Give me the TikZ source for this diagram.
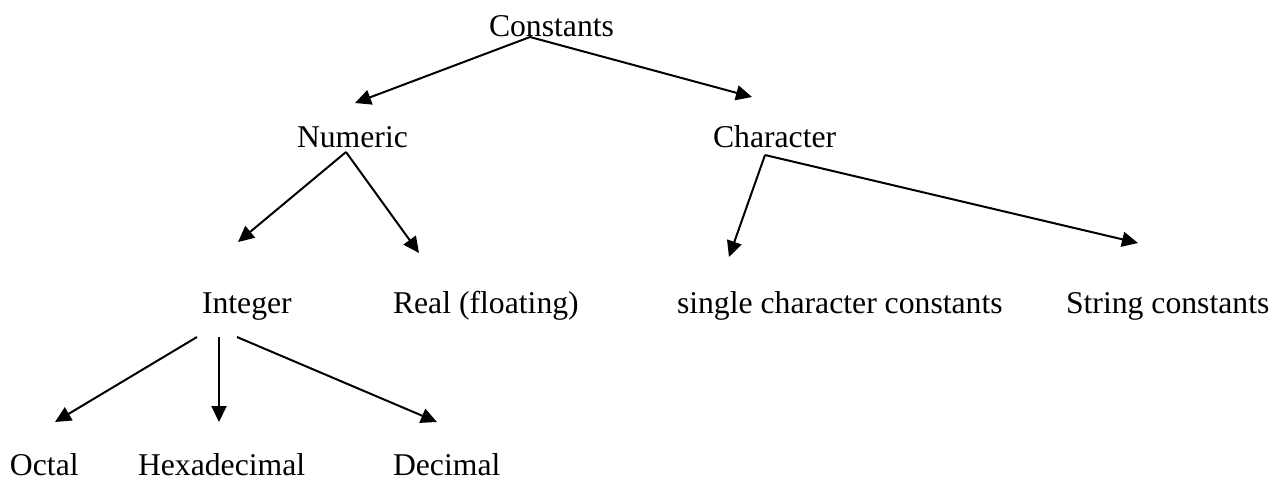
\documentclass[tikz,border=0pt]{standalone}
\usepackage{fontspec}
\setmainfont{Liberation Serif}
\usetikzlibrary{arrows.meta}
\begin{document}
\begin{tikzpicture}[x=0.5pt,y=-0.5pt,
  label/.style={anchor=base west,inner sep=0pt,outer sep=0pt,
    font=\fontsize{15.85pt}{19pt}\selectfont},
  branch/.style={line width=1pt,-{Triangle[length=8pt,width=7.5pt]}}]
\useasboundingbox (0,0) rectangle (1281,479);

% labels, one row per level of the tree
\node[label] (cst) at (489,36) {Constants};
\node[label] (num) at (297,147) {Numeric};
\node[label] (chr) at (713,147) {Character};
\node[label] (int) at (202,313) {Integer};
\node[label] (real) at (393,313) {Real (floating)};
\node[label] (sgl) at (677,313) {single character constants};
\node[label] (str) at (1066,313) {String constants};
\node[label] (oct) at (10,475) {Octal};
\node[label] (hex) at (138,475) {Hexadecimal};
\node[label] (dec) at (393,475) {Decimal};

% free ends of the connectors
\coordinate (cst-o) at (530,37);
\coordinate (num-in) at (355,103);
\coordinate (chr-in) at (752,97);
\coordinate (num-o) at (346,152);
\coordinate (int-in) at (238,242);
\coordinate (real-in) at (419,253);
\coordinate (chr-o) at (765,155);
\coordinate (sgl-in) at (729,257);
\coordinate (str-in) at (1138,243);
\coordinate (int-o1) at (197,337);
\coordinate (int-o2) at (219,337);
\coordinate (int-o3) at (237,337);
\coordinate (oct-in) at (55,422);
\coordinate (hex-in) at (219,422);
\coordinate (dec-in) at (437,422);

% connectors
\draw[branch] (cst-o) -- (num-in);
\draw[branch] (cst-o) -- (chr-in);
\draw[branch] (num-o) -- (int-in);
\draw[branch] (num-o) -- (real-in);
\draw[branch] (chr-o) -- (sgl-in);
\draw[branch] (chr-o) -- (str-in);
\draw[branch] (int-o1) -- (oct-in);
\draw[branch] (int-o2) -- (hex-in);
\draw[branch] (int-o3) -- (dec-in);
\end{tikzpicture}
\end{document}
